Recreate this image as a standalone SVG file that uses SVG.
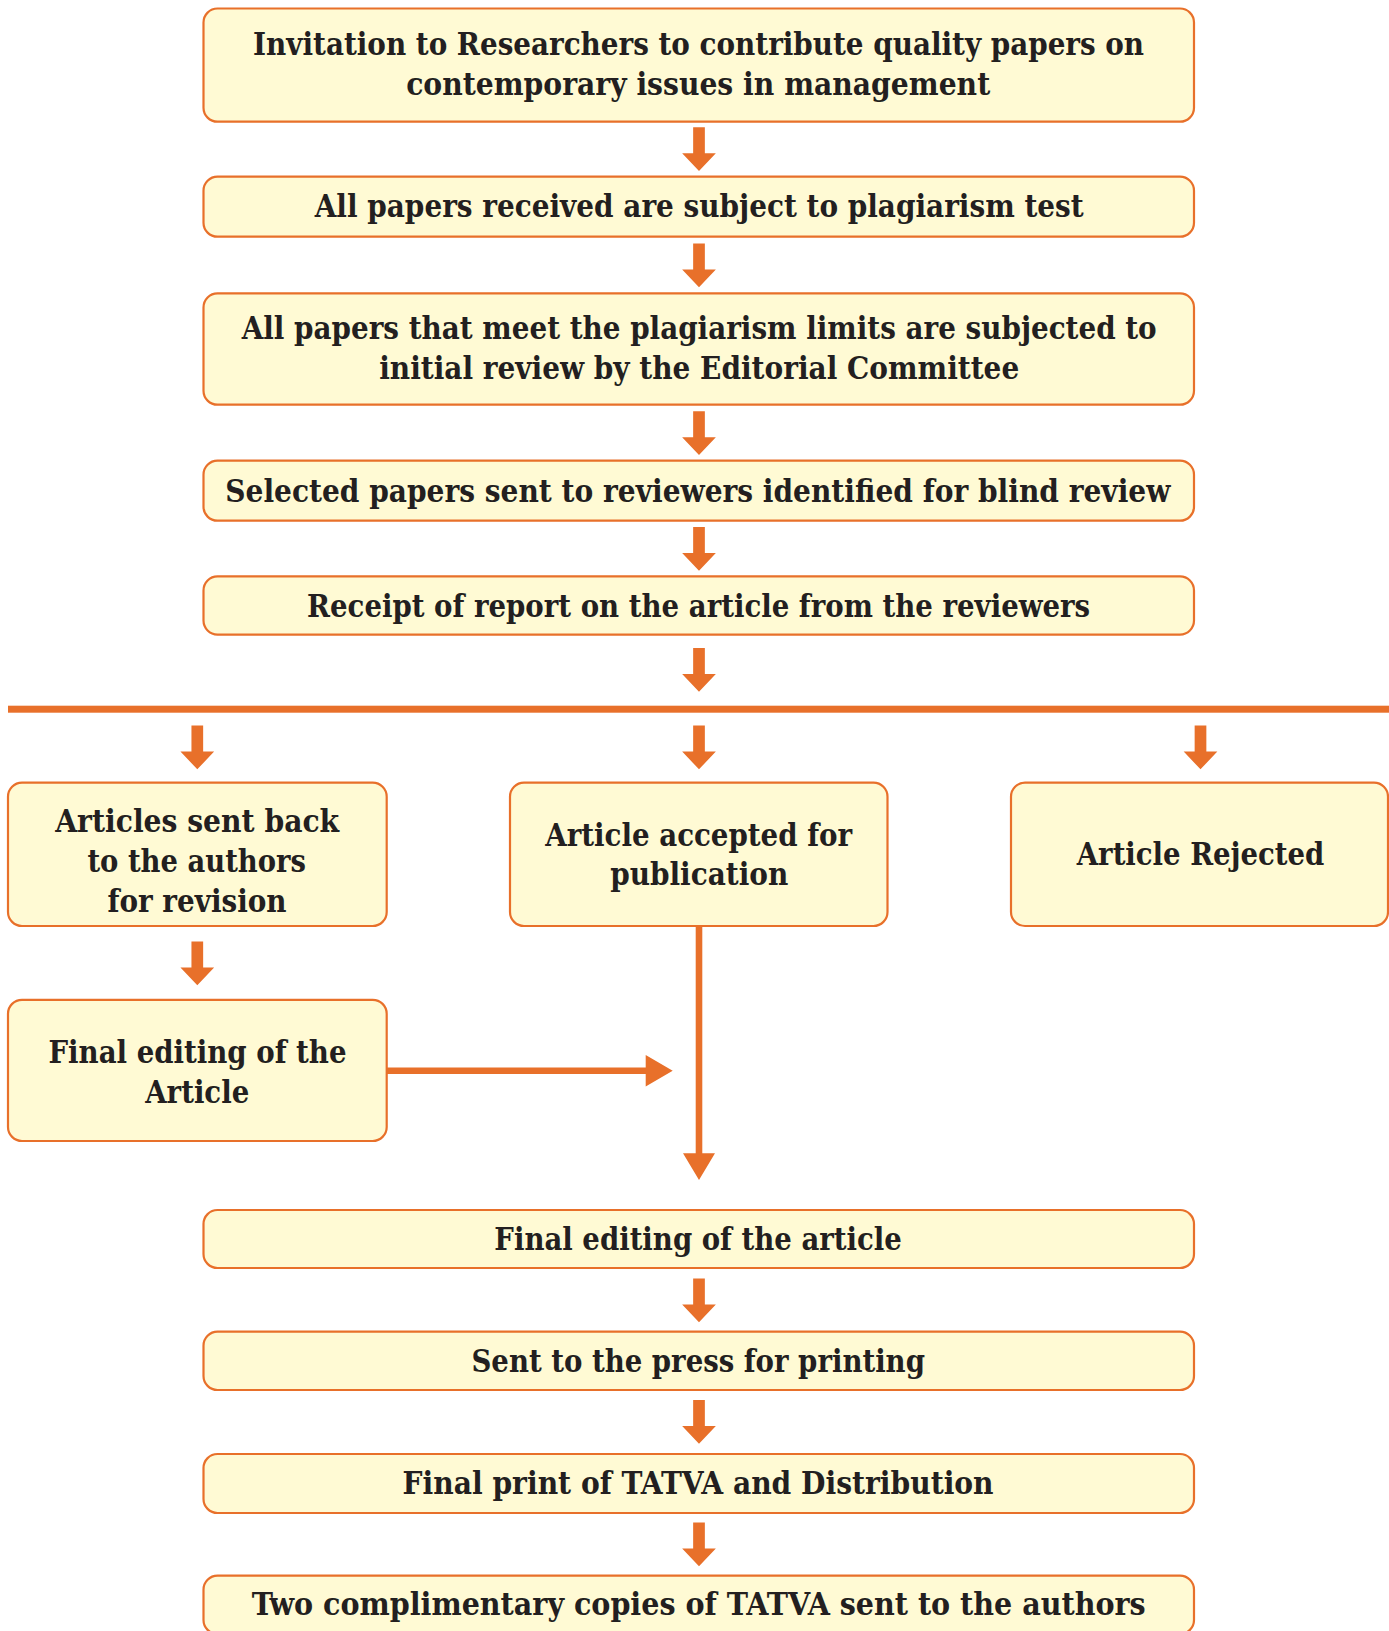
<svg xmlns="http://www.w3.org/2000/svg" xmlns:xlink="http://www.w3.org/1999/xlink" width="1389" height="1631" viewBox="0 0 1389 1631">
<style>
.box{fill:#FFFAD4;stroke:#E8702A;stroke-width:2.2}
.t{font-family:"DejaVu Serif Condensed","DejaVu Serif",serif;font-stretch:condensed;font-weight:bold;font-size:31px;fill:#231F20;text-anchor:middle}
.ln{fill:#E8702A;stroke:none}
</style>
<defs>
<path id="arr" d="M-5.85,0 H5.85 V26 H16.85 L0,43.7 L-16.85,26 H-5.85 Z" fill="#E8702A"/>
</defs>
<rect width="1389" height="1631" fill="#FFFFFF"/>

<g id="connectors">
<use xlink:href="#arr" x="699" y="127.3"/>
<use xlink:href="#arr" x="699" y="243.5"/>
<use xlink:href="#arr" x="699" y="411.3"/>
<use xlink:href="#arr" x="699" y="527"/>
<use xlink:href="#arr" x="699" y="648"/>
<rect class="ln" x="8" y="705.7" width="1381" height="7"/>
<use xlink:href="#arr" x="197.3" y="725.6"/>
<use xlink:href="#arr" x="699" y="725.6"/>
<use xlink:href="#arr" x="1200.5" y="725.6"/>
<use xlink:href="#arr" x="197.3" y="941.5"/>
<path class="ln" d="M695.7,926 H702.3 V1153.3 H715 L699,1180 L683,1153.3 H695.7 Z"/>
<path class="ln" d="M387,1067.4 H645.7 V1055 L672.7,1070.7 L645.7,1086.6 V1074 H387 Z"/>
<use xlink:href="#arr" x="699" y="1278.6"/>
<use xlink:href="#arr" x="699" y="1400"/>
<use xlink:href="#arr" x="699" y="1522.5"/>
</g>

<g id="n1">
<rect class="box" x="203.5" y="8.5" width="990.5" height="113.2" rx="14"/>
<text class="t" x="698.6" y="54.5" textLength="891" lengthAdjust="spacingAndGlyphs">Invitation to Researchers to contribute quality papers on</text>
<text class="t" x="698.2" y="94.5" textLength="584" lengthAdjust="spacingAndGlyphs">contemporary issues in management</text>
</g>
<g id="n2">
<rect class="box" x="203.5" y="176.7" width="990.5" height="60" rx="14"/>
<text class="t" x="699.2" y="216.7" textLength="769" lengthAdjust="spacingAndGlyphs">All papers received are subject to plagiarism test</text>
</g>
<g id="n3">
<rect class="box" x="203.5" y="293.4" width="990.5" height="111.3" rx="14"/>
<text class="t" x="699.2" y="338.5" textLength="915" lengthAdjust="spacingAndGlyphs">All papers that meet the plagiarism limits are subjected to</text>
<text class="t" x="699.2" y="378.7" textLength="640" lengthAdjust="spacingAndGlyphs">initial review by the Editorial Committee</text>
</g>
<g id="n4">
<rect class="box" x="203.5" y="460.7" width="990.5" height="60" rx="14"/>
<text class="t" x="697.8" y="501.7" textLength="945" lengthAdjust="spacingAndGlyphs">Selected papers sent to reviewers identified for blind review</text>
</g>
<g id="n5">
<rect class="box" x="203.5" y="576.4" width="990.5" height="58.2" rx="14"/>
<text class="t" x="698.6" y="616.8" textLength="783" lengthAdjust="spacingAndGlyphs">Receipt of report on the article from the reviewers</text>
</g>
<g id="n6">
<rect class="box" x="8" y="782.7" width="378.7" height="143.3" rx="14"/>
<text class="t" x="197.2" y="832" textLength="284" lengthAdjust="spacingAndGlyphs">Articles sent back</text>
<text class="t" x="196.7" y="872" textLength="218.5" lengthAdjust="spacingAndGlyphs">to the authors</text>
<text class="t" x="197" y="912" textLength="179" lengthAdjust="spacingAndGlyphs">for revision</text>
</g>
<g id="n7">
<rect class="box" x="510" y="782.7" width="377.5" height="143.3" rx="14"/>
<text class="t" x="698.7" y="845.5" textLength="307" lengthAdjust="spacingAndGlyphs">Article accepted for</text>
<text class="t" x="699.2" y="885" textLength="178" lengthAdjust="spacingAndGlyphs">publication</text>
</g>
<g id="n8">
<rect class="box" x="1011" y="782.7" width="377" height="143.3" rx="14"/>
<text class="t" x="1200.5" y="864.5" textLength="247.5" lengthAdjust="spacingAndGlyphs">Article Rejected</text>
</g>
<g id="n9">
<rect class="box" x="8" y="999.8" width="378.7" height="141.2" rx="14"/>
<text class="t" x="197.5" y="1063" textLength="298" lengthAdjust="spacingAndGlyphs">Final editing of the</text>
<text class="t" x="197.2" y="1102.5" textLength="104" lengthAdjust="spacingAndGlyphs">Article</text>
</g>
<g id="n10">
<rect class="box" x="203.5" y="1210" width="990.5" height="58" rx="14"/>
<text class="t" x="698.1" y="1250" textLength="407.5" lengthAdjust="spacingAndGlyphs">Final editing of the article</text>
</g>
<g id="n11">
<rect class="box" x="203.5" y="1331.7" width="990.5" height="58.3" rx="14"/>
<text class="t" x="698.2" y="1371.8" textLength="453.5" lengthAdjust="spacingAndGlyphs">Sent to the press for printing</text>
</g>
<g id="n12">
<rect class="box" x="203.5" y="1454" width="990.5" height="59" rx="14"/>
<text class="t" x="698.1" y="1494" textLength="591" lengthAdjust="spacingAndGlyphs">Final print of TATVA and Distribution</text>
</g>
<g id="n13">
<rect class="box" x="203.5" y="1575.7" width="990.5" height="58.3" rx="14"/>
<text class="t" x="698.7" y="1615" textLength="894" lengthAdjust="spacingAndGlyphs">Two complimentary copies of TATVA sent to the authors</text>
</g>
</svg>
